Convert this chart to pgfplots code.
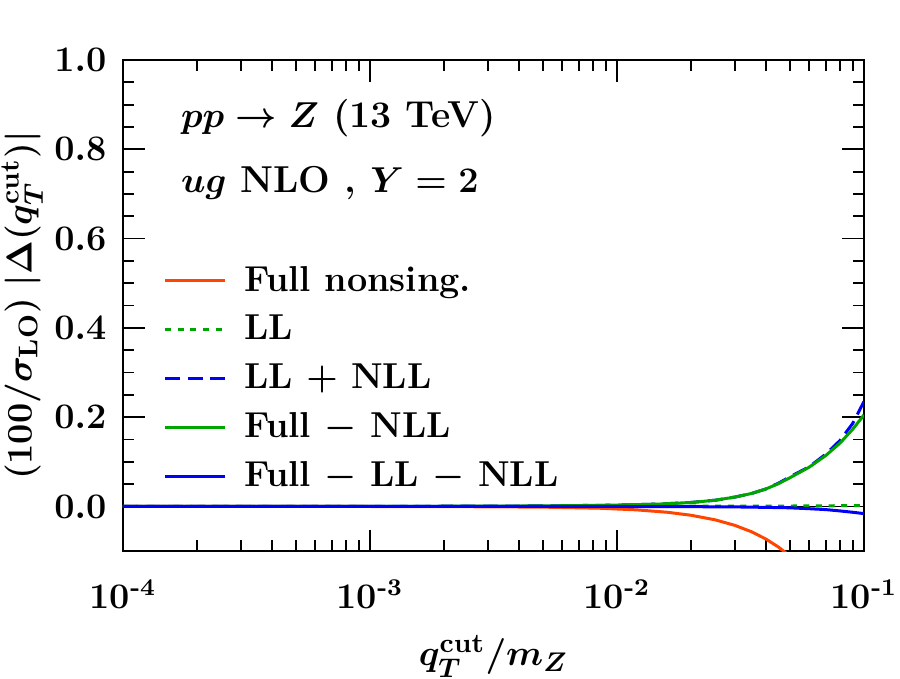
\documentclass[border=0pt]{standalone}
\usepackage{pgfplots}
\pgfplotsset{compat=1.18}
\usepackage{amsmath}
\definecolor{cred}{RGB}{255,69,0}
\definecolor{cgreen}{RGB}{0,165,0}
\definecolor{cblue}{RGB}{0,0,255}
\begin{document}
\begin{tikzpicture}
\path[use as bounding box] (-41pt,-42.3pt) rectangle (259pt,183.7pt);
\begin{axis}[
  at={(0pt,0pt)}, anchor=south west,
  scale only axis,
  width=247pt, height=163.7pt,
  xmode=log,
  xmin=1e-4, xmax=1e-1,
  ymin=-0.1, ymax=1.0,
  xtick={1e-4,1e-3,1e-2,1e-1},
  xticklabels={\textbf{10}$^{\textbf{-4}}$,\textbf{10}$^{\textbf{-3}}$,\textbf{10}$^{\textbf{-2}}$,\textbf{10}$^{\textbf{-1}}$},
  ytick={0,0.2,0.4,0.6,0.8,1.0},
  minor y tick num=3,
  yticklabel style={/pgf/number format/fixed,/pgf/number format/fixed zerofill,/pgf/number format/precision=1},
  ticklabel style={font=\boldmath\bfseries\fontsize{12}{14}\selectfont},
  tick align=inside,
  major tick length=7.2pt,
  minor tick length=3.7pt,
  every tick/.style={black, line width=0.6pt},
  axis line style={line width=0.7pt},
  xtick pos=both, ytick pos=both,
  xticklabel shift=6pt,
  yticklabel shift=2pt,
  xlabel={$q_T^{\rm cut}/m_Z$},
  ylabel={$(100/\sigma_{\rm LO})\;|\Delta(q_T^{\rm cut})|$},
  label style={font=\boldmath\bfseries\fontsize{12.5}{15}\selectfont},
  xlabel style={yshift=-2pt},
  ylabel style={yshift=-3pt},
  legend style={draw=none, fill=none, at={(0.042,0.606)}, anchor=north west,
    font=\boldmath\bfseries\fontsize{12}{14}\selectfont, row sep=2.5pt},
  legend cell align=left,
  legend image code/.code={\draw[#1] (0pt,0pt) -- (20pt,0pt); \path[draw=none] (0pt,0pt) -- (24.3pt,0pt);},
]
\addplot[black, line width=0.5pt, forget plot] coordinates {(1e-4,0) (1e-1,0)};
\addplot[cred, line width=1pt] coordinates {
(0.0001,0) (0.0003,-0.00001) (0.001,-0.00007) (0.002,-0.00026) (0.005,-0.0015)
(0.0085,-0.0039) (0.012,-0.0076) (0.016,-0.013) (0.02,-0.0198) (0.025,-0.030)
(0.03,-0.0423) (0.035,-0.0565) (0.04,-0.0727) (0.045,-0.0907) (0.05,-0.1106)
(0.055,-0.132)};
\addlegendentry{Full nonsing.}
\addplot[cgreen, line width=1pt, dash pattern=on 2pt off 2.2pt] coordinates {
(0.0001,0) (0.001,0.0001) (0.01,0.0003) (0.03,0.0007) (0.05,0.001) (0.07,0.0015) (0.1,0.002)};
\addlegendentry{LL}
\addplot[cblue, line width=1pt, dash pattern=on 5pt off 2.5pt] coordinates {
(0.0001,0) (0.0002,0) (0.0005,0.0001) (0.001,0.0002) (0.002,0.0005) (0.005,0.0012)
(0.01,0.003) (0.015,0.0055) (0.02,0.009) (0.025,0.014) (0.03,0.021) (0.035,0.029)
(0.04,0.039) (0.045,0.052) (0.05,0.066) (0.06,0.089) (0.07,0.117) (0.08,0.148)
(0.09,0.186) (0.1,0.235)};
\addlegendentry{LL $+$ NLL}
\addplot[cgreen, line width=1pt] coordinates {
(0.0001,0) (0.0002,0) (0.0005,0.0001) (0.001,0.0002) (0.002,0.0005) (0.005,0.0012)
(0.01,0.003) (0.015,0.0055) (0.02,0.009) (0.025,0.014) (0.03,0.021) (0.035,0.029)
(0.04,0.039) (0.045,0.051) (0.05,0.064) (0.06,0.088) (0.07,0.114) (0.08,0.142)
(0.09,0.173) (0.1,0.205)};
\addlegendentry{Full $-$ NLL}
\addplot[cblue, line width=1pt] coordinates {
(0.0001,0) (0.001,0) (0.01,0) (0.02,-0.0005) (0.03,-0.001) (0.04,-0.002) (0.05,-0.003)
(0.06,-0.005) (0.07,-0.007) (0.08,-0.010) (0.09,-0.013) (0.1,-0.016)};
\addlegendentry{Full $-$ LL $-$ NLL}
\node[anchor=west, font=\boldmath\bfseries\fontsize{12.5}{15}\selectfont] at (rel axis cs:0.064,0.882) {$pp\to Z$ (13 TeV)};
\node[anchor=west, font=\boldmath\bfseries\fontsize{12.5}{15}\selectfont] at (rel axis cs:0.064,0.749) {$ug$ NLO , $Y=2$};
\end{axis}
\end{tikzpicture}
\end{document}
